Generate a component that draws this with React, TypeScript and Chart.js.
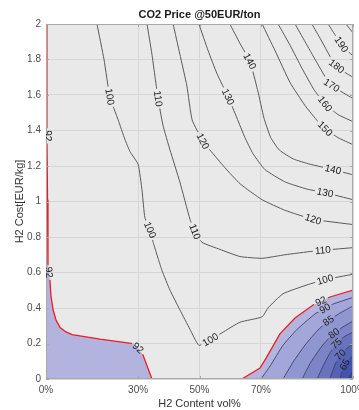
import React, { useEffect, useRef } from 'react';
import { Chart, registerables } from 'chart.js';

Chart.register(...registerables);

type Pt = [number, number];

const chartTitle = 'CO2 Price @50EUR/ton';
const xTitle = 'H2 Content vol%';
const yTitle = 'H2 Cost[EUR/kg]';
const xTickValues = [0, 30, 50, 70, 100];
const yRange: Pt = [0, 2];
const yTickStep = 0.2;

// contour lines, [H2 content %, H2 cost EUR/kg]
const c100: Pt[] = [[16.6, 2.0], [18.9, 1.8], [20.8, 1.59], [23.5, 1.46], [25.7, 1.35], [27.4, 1.28], [30.0, 1.21], [31.3, 1.06], [32.2, 0.91], [33.9, 0.84], [34.9, 0.77], [36.5, 0.68], [37.8, 0.61], [40.4, 0.5], [43.6, 0.39], [46.9, 0.28], [49.8, 0.19], [53.4, 0.22], [57.3, 0.26], [63.2, 0.32], [70.4, 0.35], [72.3, 0.4], [77.2, 0.48], [85.0, 0.53], [90.9, 0.56], [100, 0.59]];
const c110: Pt[] = [[32.9, 2.0], [34.5, 1.83], [36.5, 1.58], [38.1, 1.43], [40.4, 1.29], [43.6, 1.11], [46.9, 0.9], [48.5, 0.83], [50.8, 0.77], [56.7, 0.73], [63.2, 0.69], [70.4, 0.68], [77.9, 0.7], [87.0, 0.72], [100, 0.74]];
const c120: Pt[] = [[41.4, 2.0], [43.6, 1.83], [45.9, 1.65], [47.6, 1.46], [51.1, 1.34], [53.4, 1.29], [58.3, 1.19], [63.2, 1.1], [70.4, 1.01], [77.9, 0.95], [87.0, 0.9], [100, 0.87]];
const c130: Pt[] = [[49.8, 2.0], [52.8, 1.85], [55.7, 1.72], [59.3, 1.59], [62.2, 1.47], [64.8, 1.36], [67.4, 1.27], [71.3, 1.18], [77.9, 1.11], [85.0, 1.07], [90.9, 1.05], [100, 1.01]];
const c140: Pt[] = [[59.9, 2.0], [63.2, 1.89], [66.4, 1.79], [68.9, 1.63], [71.0, 1.47], [73.2, 1.36], [76.0, 1.29], [80.5, 1.24], [86.0, 1.21], [93.5, 1.18], [100, 1.15]];
const c150: Pt[] = [[70.4, 2.0], [74.6, 1.85], [79.5, 1.67], [84.4, 1.54], [88.6, 1.45], [90.9, 1.41], [95.1, 1.36], [100, 1.32]];
const c160: Pt[] = [[75.6, 2.0], [79.5, 1.88], [83.4, 1.75], [87.3, 1.63], [90.9, 1.55], [95.1, 1.49], [100, 1.45]];
const c170: Pt[] = [[81.1, 2.0], [84.4, 1.9], [88.0, 1.79], [92.5, 1.66], [96.1, 1.62], [100, 1.58]];
const c180: Pt[] = [[86.6, 2.0], [89.6, 1.91], [94.1, 1.77], [97.1, 1.73], [100, 1.7]];
const c190: Pt[] = [[91.9, 2.0], [94.1, 1.94], [96.4, 1.88], [100, 1.82]];
const c200: Pt[] = [[97.7, 2.0], [100, 1.95]];
const c92L: Pt[] = [[0.3, 2.0], [0.3, 1.37], [0.5, 1.01], [0.65, 0.65], [1.0, 0.6], [1.3, 0.55], [1.6, 0.47], [2.3, 0.39], [3.3, 0.33], [4.6, 0.29], [6.5, 0.265], [8.5, 0.25], [17.6, 0.225], [28.3, 0.2], [30.0, 0.175], [31.6, 0.135], [34.5, 0.0]];
const c92R: Pt[] = [[63.8, 0], [69.7, 0.062], [71.7, 0.118], [76.2, 0.254], [81.1, 0.344], [87.0, 0.417], [92.5, 0.462], [100, 0.501]];
const c90: Pt[] = [[70.0, 0], [73.0, 0.073], [77.2, 0.19], [81.8, 0.28], [87.6, 0.366], [93.2, 0.42], [100, 0.46]];
const c85: Pt[] = [[77.2, 0], [80.5, 0.096], [84.4, 0.192], [88.6, 0.276], [91.9, 0.327], [95.8, 0.372], [100, 0.411]];
const c80: Pt[] = [[83.4, 0], [86.3, 0.096], [89.9, 0.186], [93.5, 0.254], [96.7, 0.293], [100, 0.327]];
const c75: Pt[] = [[88.3, 0], [90.9, 0.096], [94.1, 0.192], [97.1, 0.237], [100, 0.265]];
const c70: Pt[] = [[92.5, 0], [94.1, 0.079], [95.8, 0.135], [97.7, 0.169], [100, 0.197]];
const c65: Pt[] = [[95.8, 0], [96.7, 0.062], [98.0, 0.101], [100, 0.13]];
const c60: Pt[] = [[98.4, 0], [100, 0.045]];

// contour labels: [text, line key, approx x, approx y]
const contourLabels: [string, string, number, number][] = [
  ['100', 'c100', 20.8, 1.59], ['100', 'c100', 33.9, 0.84], ['100', 'c100', 53.6, 0.22], ['100', 'c100', 90.9, 0.56],
  ['110', 'c110', 36.5, 1.58], ['110', 'c110', 48.5, 0.83], ['110', 'c110', 90.2, 0.72],
  ['120', 'c120', 51.1, 1.34], ['120', 'c120', 87.0, 0.9],
  ['130', 'c130', 59.3, 1.59], ['130', 'c130', 90.9, 1.05],
  ['140', 'c140', 66.4, 1.79], ['140', 'c140', 93.5, 1.18],
  ['150', 'c150', 90.9, 1.41], ['160', 'c160', 90.9, 1.55], ['170', 'c170', 92.5, 1.64],
  ['180', 'c180', 94.1, 1.75], ['190', 'c190', 95.8, 1.88],
  ['92', 'c92L', 0.3, 1.37], ['92', 'c92L', 0.6, 0.6], ['92', 'c92L', 30.0, 0.175],
  ['92', 'c92R', 89.5, 0.44], ['90', 'c90', 90.8, 0.4], ['85', 'c85', 91.9, 0.33],
  ['80', 'c80', 93.5, 0.265], ['75', 'c75', 94.1, 0.21], ['70', 'c70', 95.1, 0.15], ['65', 'c65', 96.4, 0.09],
];

const lineByKey: Record<string, Pt[]> = { c100, c110, c120, c130, c140, c150, c160, c170, c180, c190, c200, c92L, c92R, c90, c85, c80, c75, c70, c65, c60 };
const grayKeys = ['c100', 'c110', 'c120', 'c130', 'c140', 'c150', 'c160', 'c170', 'c180', 'c190', 'c200'];
const redKeys = ['c92L', 'c92R'];
const blueKeys = ['c90', 'c85', 'c80', 'c75', 'c70', 'c65', 'c60'];
const fillKeys = ['left', 'c92R', 'c90', 'c85', 'c80', 'c75', 'c70', 'c65', 'c60'];
const fillColors = ['#b2b3de', '#b4b5df', '#a3a6d8', '#9096cf', '#7c84c6', '#6973bd', '#5662b4', '#4453ab', '#3446a3'];

const FONT = "'Liberation Sans', Arial, Helvetica, sans-serif";

const toXY = (pts: Pt[]) => pts.map(([x, y]) => ({ x, y }));

function computeLabels(chart: any) {
  const xs = chart.scales.x, ys = chart.scales.y;
  const ctx = chart.ctx;
  ctx.save();
  ctx.font = `10px ${FONT}`;
  const out = contourLabels.map(([text, key, lx, ly]) => {
    const pts = lineByKey[key];
    const px = xs.getPixelForValue(lx), py = ys.getPixelForValue(ly);
    let best = { d: Infinity, x: px, y: py, ang: 0 };
    for (let i = 0; i < pts.length - 1; i++) {
      const ax = xs.getPixelForValue(pts[i][0]), ay = ys.getPixelForValue(pts[i][1]);
      const bx = xs.getPixelForValue(pts[i + 1][0]), by = ys.getPixelForValue(pts[i + 1][1]);
      const dx = bx - ax, dy = by - ay;
      const L = dx * dx + dy * dy;
      let t = L ? ((px - ax) * dx + (py - ay) * dy) / L : 0;
      t = Math.max(0, Math.min(1, t));
      const qx = ax + t * dx, qy = ay + t * dy;
      const d = (qx - px) ** 2 + (qy - py) ** 2;
      if (d < best.d) best = { d, x: qx, y: qy, ang: Math.atan2(dy, dx) };
    }
    let ang = best.ang;
    if (ang > Math.PI / 2 + 1e-6) ang -= Math.PI;
    if (ang < -Math.PI / 2 - 1e-6) ang += Math.PI;
    return { text, key, x: best.x, y: best.y, ang, w: ctx.measureText(text).width };
  });
  ctx.restore();
  return out;
}

const decorPlugin = {
  id: 'contourDecor',
  beforeDraw(chart: any) {
    const { ctx, chartArea: a } = chart;
    ctx.save();
    ctx.fillStyle = '#ffffff';
    ctx.fillRect(0, 0, chart.width, chart.height);
    ctx.fillStyle = '#e9e9e9';
    ctx.fillRect(a.left, a.top, a.right - a.left, a.bottom - a.top);
    ctx.restore();
  },
  beforeDatasetsDraw(chart: any) {
    chart.$contourLabels = computeLabels(chart);
  },
  beforeDatasetDraw(chart: any, args: any) {
    const ds = chart.data.datasets[args.index];
    if (!ds.label || !ds.label.startsWith('line:')) return;
    const key = ds.label.slice(5);
    const ctx = chart.ctx;
    ctx.save();
    ctx.beginPath();
    ctx.rect(0, 0, chart.width, chart.height);
    for (const l of chart.$contourLabels || []) {
      if (l.key !== key) continue;
      const hw = l.w / 2 + 2, hh = 5.5;
      const c = Math.cos(l.ang), s = Math.sin(l.ang);
      const corners: Pt[] = [[-hw, -hh], [hw, -hh], [hw, hh], [-hw, hh]];
      corners.forEach(([sx, sy], i) => {
        const X = l.x + sx * c - sy * s, Y = l.y + sx * s + sy * c;
        if (i === 0) ctx.moveTo(X, Y); else ctx.lineTo(X, Y);
      });
      ctx.closePath();
    }
    ctx.clip('evenodd');
  },
  afterDatasetDraw(chart: any, args: any) {
    const ds = chart.data.datasets[args.index];
    if (!ds.label || !ds.label.startsWith('line:')) return;
    chart.ctx.restore();
  },
  afterDatasetsDraw(chart: any) {
    const { ctx, chartArea: a } = chart;
    const xs = chart.scales.x, ys = chart.scales.y;
    ctx.save();
    ctx.strokeStyle = '#a8a8a8';
    ctx.lineWidth = 1;
    ctx.strokeRect(a.left + 0.5, a.top + 0.5, a.right - a.left - 1, a.bottom - a.top - 1);
    ctx.beginPath();
    for (const t of ys.ticks) {
      const y = Math.round(ys.getPixelForValue(t.value)) + 0.5;
      ctx.moveTo(a.left, y); ctx.lineTo(a.left + 3, y);
      ctx.moveTo(a.right, y); ctx.lineTo(a.right - 3, y);
    }
    for (const t of xs.ticks) {
      const x = Math.round(xs.getPixelForValue(t.value)) + 0.5;
      ctx.moveTo(x, a.bottom); ctx.lineTo(x, a.bottom - 3);
      ctx.moveTo(x, a.top); ctx.lineTo(x, a.top + 3);
    }
    ctx.stroke();
    ctx.beginPath();
    ctx.rect(a.left, a.top, a.right - a.left, a.bottom - a.top);
    ctx.clip();
    ctx.fillStyle = '#222222';
    ctx.font = `10px ${FONT}`;
    ctx.textAlign = 'center';
    ctx.textBaseline = 'middle';
    for (const l of chart.$contourLabels || []) {
      ctx.save();
      ctx.translate(l.x, l.y);
      ctx.rotate(l.ang);
      ctx.fillText(l.text, 0, 0.5);
      ctx.restore();
    }
    ctx.restore();
  },
  afterDraw(chart: any) {
    const { ctx, chartArea: a } = chart;
    const cx = (a.left + a.right) / 2;
    const cy = (a.top + a.bottom) / 2;
    ctx.save();
    ctx.textAlign = 'center';
    ctx.textBaseline = 'middle';
    ctx.fillStyle = '#1a1a1a';
    ctx.font = `bold 11px ${FONT}`;
    ctx.fillText(chartTitle, cx, 15);
    ctx.fillStyle = '#333333';
    ctx.font = `11px ${FONT}`;
    ctx.fillText(xTitle, cx, 404);
    ctx.translate(20, cy);
    ctx.rotate(-Math.PI / 2);
    ctx.fillText(yTitle, 0, 0);
    ctx.restore();
  },
};

function buildDatasets() {
  const ds: any[] = [];
  fillKeys.forEach((key, i) => {
    const pts = key === 'left' ? ([[0, yRange[1]], ...c92L] as Pt[]) : lineByKey[key];
    ds.push({
      label: 'fill:' + key,
      data: toXY(pts),
      fill: 'origin',
      backgroundColor: fillColors[i],
      borderColor: 'rgba(0,0,0,0)',
      borderWidth: 0,
      pointRadius: 0,
      tension: 0,
      order: 100 - i,
    });
  });
  const addLine = (key: string, color: string, width: number, tension: number) => {
    ds.push({
      label: 'line:' + key,
      data: toXY(lineByKey[key]),
      fill: false,
      borderColor: color,
      borderWidth: width,
      pointRadius: 0,
      tension,
      order: 0,
    });
  };
  grayKeys.forEach((k) => addLine(k, '#5a5a5a', 1, 0.15));
  blueKeys.forEach((k) => addLine(k, '#3c3f66', 0.9, 0.15));
  redKeys.forEach((k) => addLine(k, '#ee1c25', 1.3, 0));
  return ds;
}

export default function App() {
  const ref = useRef<HTMLCanvasElement | null>(null);
  useEffect(() => {
    if (!ref.current) return;
    const chart = new Chart(ref.current, {
      type: 'line',
      data: { datasets: buildDatasets() },
      options: {
        animation: false,
        responsive: false,
        devicePixelRatio: 1,
        layout: { padding: { top: 24, right: 6, left: 0, bottom: 0 } },
        plugins: { legend: { display: false }, tooltip: { enabled: false }, title: { display: false } },
        elements: { line: { capBezierPoints: true } },
        scales: {
          x: {
            type: 'linear',
            min: 0,
            max: 100,
            afterBuildTicks: (s: any) => { s.ticks = xTickValues.map((v) => ({ value: v })); },
            afterFit: (s: any) => { s.height = 31; s.paddingLeft = 0; s.paddingRight = 0; },
            ticks: { autoSkip: false, maxRotation: 0, padding: 5, color: '#4d4d4d', font: { size: 10, family: FONT }, callback: (v: any) => `${v}%` },
            grid: { color: '#d6d6d6', drawTicks: false, lineWidth: 1 },
            border: { display: false },
          },
          y: {
            type: 'linear',
            min: yRange[0],
            max: yRange[1],
            afterFit: (s: any) => { s.width = 46; s.paddingTop = 0; s.paddingBottom = 0; },
            ticks: { stepSize: yTickStep, padding: 5, color: '#4d4d4d', font: { size: 10, family: FONT }, callback: (v: any) => String(Math.round(Number(v) * 10) / 10) },
            grid: { color: '#d6d6d6', drawTicks: false, lineWidth: 1 },
            border: { display: false },
          },
        },
      },
      plugins: [decorPlugin],
    } as any);
    return () => chart.destroy();
  }, []);
  return (
    <div style={{ position: 'absolute', left: 0, top: 0, width: 359, height: 410 }}>
      <canvas ref={ref} width={359} height={410} style={{ display: 'block', width: 359, height: 410 }} />
    </div>
  );
}
